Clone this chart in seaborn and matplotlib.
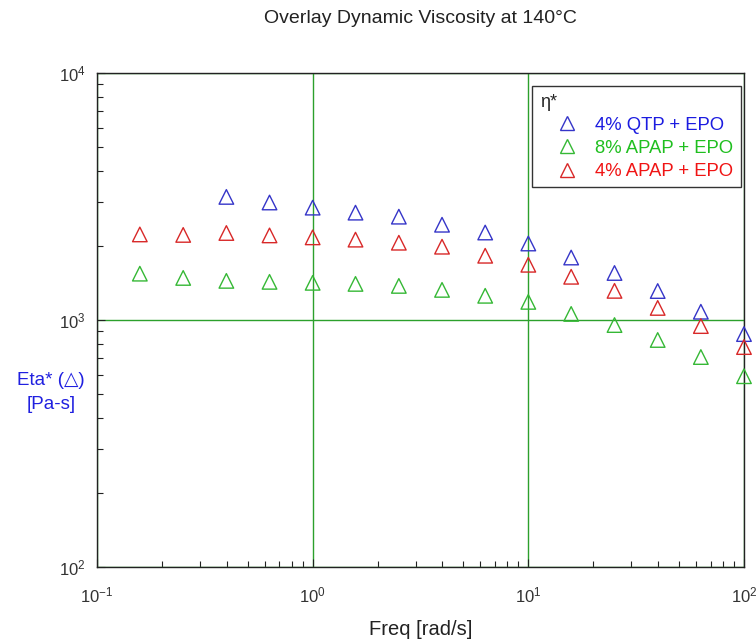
import matplotlib
matplotlib.use("Agg")
import matplotlib.pyplot as plt
from matplotlib.lines import Line2D
from matplotlib.ticker import LogLocator
import numpy as np
import pandas as pd
import seaborn as sns

# Angular frequency sweep [rad/s]
freq = [0.158, 0.251, 0.398, 0.631, 1.0, 1.58, 2.51, 3.98, 6.31, 10.0,
        15.8, 25.1, 39.8, 63.1, 100.0]

# Complex viscosity eta* [Pa-s]
eta_qtp4 = [None, None, 3150, 2990, 2850, 2720, 2620, 2430, 2260, 2040,
            1790, 1550, 1310, 1080, 877]
eta_apap8 = [1540, 1480, 1440, 1427, 1414, 1400, 1374, 1324, 1253, 1184,
             1058, 954, 830, 708, 592]
eta_apap4 = [2220, 2210, 2250, 2200, 2160, 2115, 2055, 1980, 1820, 1673,
             1496, 1312, 1119, 945, 777]

series_names = ["4% QTP + EPO", "8% APAP + EPO", "4% APAP + EPO"]
series_values = [eta_qtp4, eta_apap8, eta_apap4]
marker_colors = ["#3535c8", "#35b835", "#d82828"]
text_colors = ["#1c1ce0", "#1fbf1f", "#f01414"]

sns.set_theme(style="white")
plt.rcParams["font.family"] = ["Liberation Sans", "DejaVu Sans"]
plt.rcParams["mathtext.default"] = "regular"

rows = []
for name, vals in zip(series_names, series_values):
    for f, v in zip(freq, vals):
        if v is not None:
            rows.append({"Freq": f, "Eta": v, "Sample": name})
df = pd.DataFrame(rows)

fig = plt.figure(figsize=(7.56, 6.39), dpi=100)
ax = fig.add_axes([0.1283, 0.1127, 0.8558, 0.7731])

for name, mc in zip(series_names, marker_colors):
    sub = df[df["Sample"] == name]
    sns.scatterplot(data=sub, x="Freq", y="Eta", ax=ax, marker="^", s=110,
                    facecolor="none", edgecolor=mc, linewidth=1.0,
                    legend=False, zorder=3, clip_on=False)

ax.set_xscale("log")
ax.set_yscale("log")
ax.set_xlim(0.1, 100)
ax.set_ylim(100, 10000)

ax.xaxis.set_major_locator(LogLocator(base=10, numticks=10))
ax.yaxis.set_major_locator(LogLocator(base=10, numticks=10))
ax.xaxis.set_minor_locator(LogLocator(base=10, subs=np.arange(2, 10), numticks=20))
ax.yaxis.set_minor_locator(LogLocator(base=10, subs=np.arange(2, 10), numticks=20))

ax.grid(True, which="major", color="#2ca02c", linewidth=1.0)
ax.grid(False, which="minor")

for sp in ax.spines.values():
    sp.set_color("#222222")
    sp.set_linewidth(1.0)
    sp.set_visible(True)

ax.tick_params(which="both", direction="in", colors="#222222",
               labelcolor="#333333", labelsize=12,
               bottom=True, left=True, top=False, right=False)
ax.tick_params(which="major", length=6, width=0.8)
ax.tick_params(which="minor", length=4, width=0.8)
ax.tick_params(axis="x", which="major", pad=13)
ax.tick_params(axis="y", which="major", pad=8)

ax.set_xlabel("Freq [rad/s]", fontsize=14.5, color="#222222", labelpad=11)
ax.set_ylabel("Eta* (\u25b3)\n[Pa-s]", fontsize=13.5, color="#2020e0",
              rotation=0, ha="center", va="center", linespacing=1.5)
ax.yaxis.set_label_coords(-0.071, 0.353)

ax.set_title("Overlay Dynamic Viscosity at 140\u00b0C", fontsize=14,
             color="#222222", y=1.0, pad=36)

handles = [Line2D([], [], linestyle="none", marker="^", markersize=10,
                  markerfacecolor="none", markeredgecolor=mc, markeredgewidth=1.0)
           for mc in marker_colors]
leg = ax.legend(handles, series_names, title="\u03b7*", loc="upper right",
                bbox_to_anchor=(0.995, 0.973), fontsize=13.3,
                title_fontsize=13, frameon=True, fancybox=False,
                edgecolor="#333333", framealpha=1.0, borderpad=0.4,
                handlelength=2.9, handletextpad=0.1, labelspacing=0.33,
                alignment="left", borderaxespad=0.0)
leg.get_frame().set_linewidth(1.0)
for txt, tc in zip(leg.get_texts(), text_colors):
    txt.set_color(tc)

fig.savefig("out.png", dpi=100)
